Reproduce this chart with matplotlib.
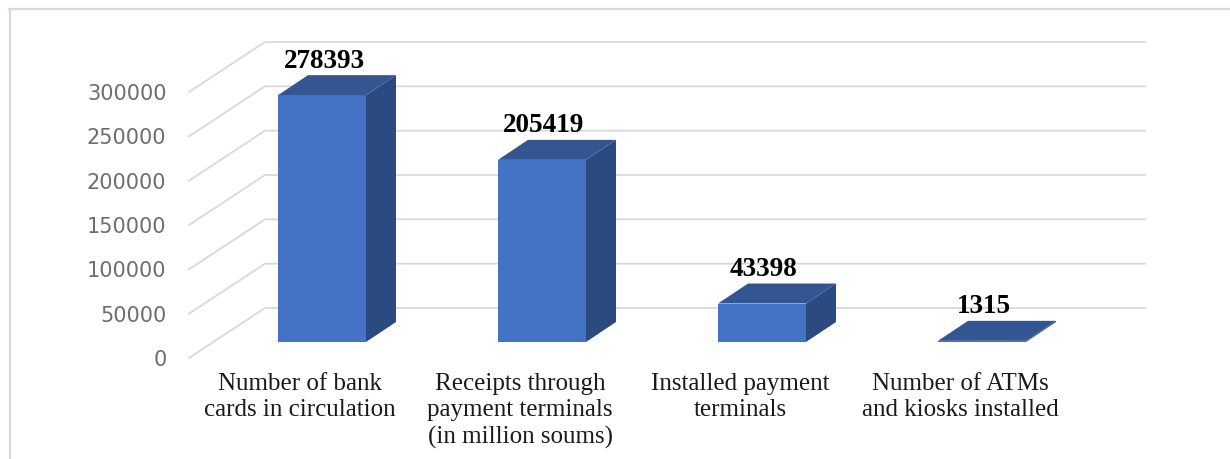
import numpy as np
import matplotlib
matplotlib.use("Agg")
import matplotlib.pyplot as plt
from matplotlib.lines import Line2D

categories = ["Number of bank\ncards in circulation",
              "Receipts through\npayment terminals\n(in million soums)",
              "Installed payment\nterminals",
              "Number of ATMs\nand kiosks installed"]
values = [278393, 205419, 43398, 1315]
y_ticks = [0, 50000, 100000, 150000, 200000, 250000, 300000]

W, H = 1230, 459
DPI = 100
PX_PT = 72 / DPI

# pixel geometry of the fake 3-D projection
left, right, bottom, top = 189, 1145, 358, 42
cat_px = 220.0
first_cat = 322.0
val_per_px = 300000 / 266.0

fig = plt.figure(figsize=(W / DPI, H / DPI), dpi=DPI, facecolor="white")
ax = fig.add_axes([left / W, 1 - bottom / H, (right - left) / W, (bottom - top) / H])
ax.set_xlim((left - first_cat) / cat_px, (right - first_cat) / cat_px)
ax.set_ylim(0, (bottom - top) * val_per_px)
ax.patch.set_visible(False)
for s in ax.spines.values():
    s.set_visible(False)

dx_u = lambda px: px / cat_px
dy_u = lambda px: px * val_per_px

# walls / gridlines
wall_dx, wall_dy = dx_u(76), dy_u(50)
x_end = ax.get_xlim()[1]
x_start = ax.get_xlim()[0]
for v in y_ticks:
    ax.plot([x_start, x_start + wall_dx, x_end], [v, v + wall_dy, v + wall_dy],
            color="#d9d9d9", lw=1.8 * PX_PT, clip_on=False, zorder=1,
            solid_joinstyle="miter")

# bars
x = np.arange(len(values))
bw = 88 / cat_px
base = dy_u(16)
ddx, ddy = dx_u(30), dy_u(20)
ax.bar(x, values, width=bw, bottom=base, color="#4472C4", zorder=3, linewidth=0)
for xi, v in zip(x, values):
    l, r = xi - bw / 2, xi + bw / 2
    t = base + v
    ax.fill([r, r + ddx, r + ddx, r], [base, base + ddy, t + ddy, t],
            color="#2B4A80", lw=0, zorder=3, clip_on=False)
    ax.fill([l, r, r + ddx, l + ddx], [t, t, t + ddy, t + ddy],
            color="#335693", lw=0, zorder=3, clip_on=False)
    ax.annotate(f"{v}", (xi, t), xytext=(2 * PX_PT, 34 * PX_PT), textcoords="offset points",
                ha="center", va="center", family="Liberation Serif", weight="bold",
                fontsize=19.5, color="black", zorder=5, annotation_clip=False)

# axes text
ax.set_yticks(y_ticks)
ax.set_yticklabels([str(v) for v in y_ticks], family="DejaVu Sans", fontsize=15, color="#6e6e6e")
ax.tick_params(axis="y", length=0, pad=22.5 * PX_PT)
ax.set_xticks(x - dx_u(22))
ax.set_xticklabels(categories, family="Liberation Serif", fontsize=18, color="#1a1a1a", linespacing=1.25)
ax.tick_params(axis="x", length=0, pad=15 * PX_PT)

# outer frame (cropped at right and bottom)
fig.add_artist(Line2D([10 / W, 10 / W], [0, 1 - 9 / H], color="#d9d9d9", lw=2.2 * PX_PT))
fig.add_artist(Line2D([9 / W, 1], [1 - 9 / H, 1 - 9 / H], color="#d9d9d9", lw=2.2 * PX_PT))

fig.savefig("out.png", dpi=DPI)
